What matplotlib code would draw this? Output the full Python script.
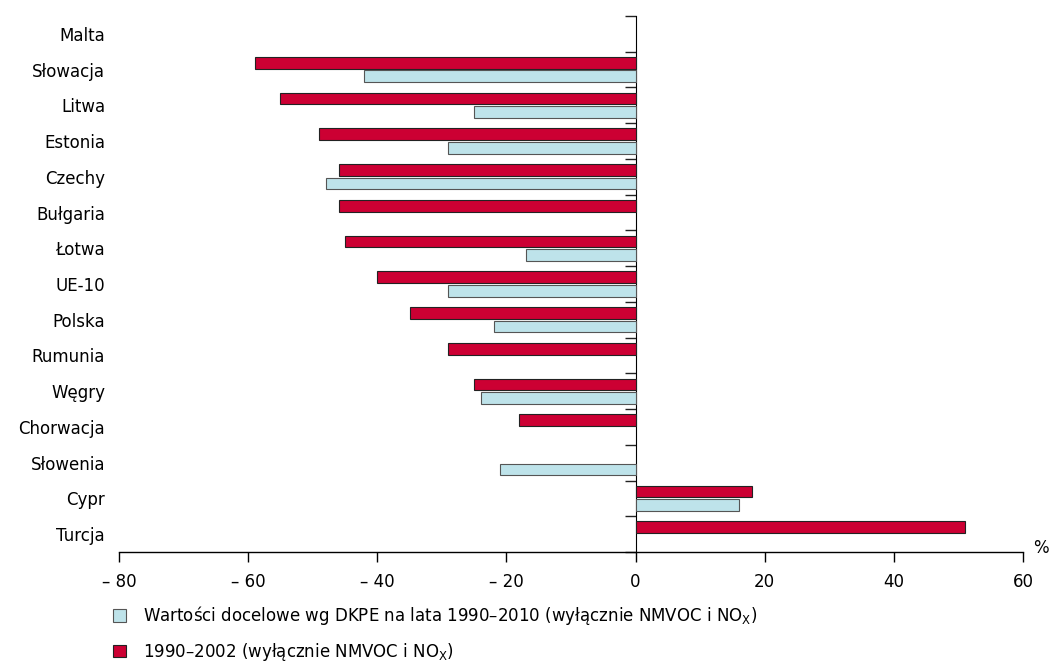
import matplotlib
matplotlib.use("Agg")
import matplotlib.pyplot as plt
import numpy as np

# data
countries = ["Malta", "Słowacja", "Litwa", "Estonia", "Czechy", "Bułgaria", "Łotwa",
             "UE-10", "Polska", "Rumunia", "Węgry", "Chorwacja", "Słowenia", "Cypr", "Turcja"]
actual_1990_2002 = [np.nan, -59, -55, -49, -46, -46, -45, -40, -35, -29, -25, -18, np.nan, 18, 51]
target_1990_2010 = [np.nan, -42, -25, -29, -48, np.nan, -17, -29, -22, np.nan, -24, np.nan, -21, 16, np.nan]
xticks = [-80, -60, -40, -20, 0, 20, 40, 60]
xtick_labels = ["– 80", "– 60", "– 40", "– 20", "0", "20", "40", "60"]

RED = "#CC0033"
BLUE = "#BEE3EA"
FS = 12

plt.rcParams["font.family"] = ["DejaVu Sans"]

fig = plt.figure(figsize=(10.51, 6.64), dpi=100)
ax = fig.add_axes([0.1132, 0.1687, 0.8602, 0.8072])

y = np.arange(len(countries))
h = 0.33
ax.barh(y - 0.19, actual_1990_2002, height=h, color=RED, edgecolor="#222222",
        linewidth=0.8, label="1990–2002 (wyłącznie NMVOC i NO$_\\mathregular{X}$)", zorder=3)
ax.barh(y + 0.19, target_1990_2010, height=h, color=BLUE, edgecolor="#555555",
        linewidth=0.8,
        label="Wartości docelowe wg DKPE na lata 1990–2010 (wyłącznie NMVOC i NO$_\\mathregular{X}$)",
        zorder=3)

ax.set_xlim(-80, 60)
ax.set_ylim(len(countries) - 0.5, -0.5)

ax.set_xticks(xticks)
ax.set_xticklabels(xtick_labels, fontsize=FS)
ax.tick_params(axis="x", direction="out", length=7, width=1, pad=8, colors="black")

ax.set_yticks(y)
ax.set_yticklabels(countries, fontsize=FS)
ax.tick_params(axis="y", length=0, pad=10)

for s in ["top", "right", "left"]:
    ax.spines[s].set_visible(False)
ax.spines["bottom"].set_linewidth(1)

# zero line with category-boundary ticks pointing left
zero_frac = (0 - xticks[0]) / (xticks[-1] - xticks[0])
sec = ax.secondary_yaxis(zero_frac)
sec.set_yticks(np.arange(len(countries) + 1) - 0.5)
sec.set_yticklabels([])
sec.tick_params(direction="in", length=8, width=1, colors="#222222")
sec.spines["left"].set_linewidth(1)

ax.text(1.011, 0.007, "%", transform=ax.transAxes, fontsize=FS, ha="left", va="center")

handles, labels = ax.get_legend_handles_labels()
fig.legend(handles[::-1], labels[::-1], loc="upper left", bbox_to_anchor=(0.1075, 0.09),
           frameon=False, fontsize=FS, handlelength=0.8, handleheight=0.8,
           handletextpad=1.0, labelspacing=0.82, borderpad=0, borderaxespad=0)

fig.savefig("out.png", dpi=100)
